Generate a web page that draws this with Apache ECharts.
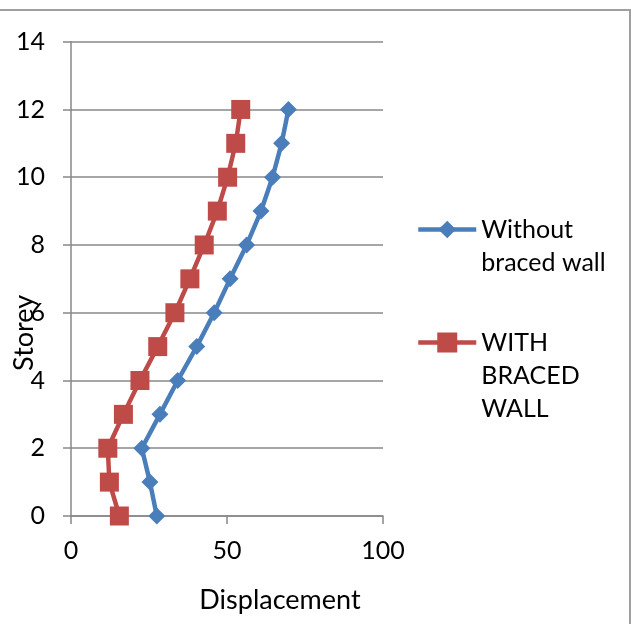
<!DOCTYPE html>
<html>
<head>
<meta charset="utf-8">
<script src="https://cdn.jsdelivr.net/npm/echarts@6/dist/echarts.min.js"></script>
<style>
  html, body { margin: 0; padding: 0; background: #fff; }
  #frame {
    position: absolute; left: 0; top: 9px; width: 629px; height: 615px;
    border-top: 2px solid #a0a0a0; border-right: 2px solid #a0a0a0;
  }
  #chart { position: absolute; left: 0; top: 0; width: 631px; height: 624px; }
</style>
</head>
<body>
<div id="frame"></div>
<div id="chart"></div>
<script>
const storeys = [0, 1, 2, 3, 4, 5, 6, 7, 8, 9, 10, 11, 12];
const withoutBraced = [27.5, 25.3, 22.7, 28.5, 34.2, 40.3, 45.9, 51.0, 56.3, 60.9, 64.6, 67.5, 69.7];
const withBraced = [15.5, 12.3, 11.8, 16.8, 22.1, 27.8, 33.3, 38.1, 42.7, 46.9, 50.2, 52.8, 54.4];
const seriesNames = ["Without\nbraced wall", "WITH\nBRACED\nWALL"];
const xTicks = { min: 0, max: 100, interval: 50 };
const yTicks = { min: 0, max: 14, interval: 2 };

const font = "Lato";
const fs = 25;
const blue = "#4a7ebb";
const red = "#be4b48";
const gridGrey = "#888888";
const lh = 33;

// excel puts the legend marker on the first text line, so pad the text above
function legendText(name) {
  const lines = name.split("\n").length;
  return "\n".repeat(lines - 1) + name;
}

const chart = echarts.init(document.getElementById("chart"), null, { renderer: "canvas" });

chart.setOption({
  animation: false,
  textStyle: { fontFamily: font, color: "#000" },
  grid: { left: 71, right: 248, top: 41.7, bottom: 108, containLabel: false, outerBoundsMode: "none" },
  xAxis: {
    type: "value",
    min: xTicks.min,
    max: xTicks.max,
    interval: xTicks.interval,
    name: "Displacement",
    nameLocation: "middle",
    nameGap: 71,
    nameMoveOverlap: false,
    nameTextStyle: { fontFamily: font, fontSize: 27, color: "#000", padding: [0, 0, 0, 106] },
    axisLine: { show: true, lineStyle: { color: gridGrey, width: 1.5 } },
    axisTick: { show: true, length: 8, lineStyle: { color: gridGrey, width: 1.5 } },
    axisLabel: { fontFamily: font, fontSize: fs, color: "#000", margin: 22 },
    splitLine: { show: false },
  },
  yAxis: {
    type: "value",
    min: yTicks.min,
    max: yTicks.max,
    interval: yTicks.interval,
    name: "Storey",
    nameLocation: "middle",
    nameGap: 33,
    nameMoveOverlap: false,
    nameTextStyle: { fontFamily: font, fontSize: 27, color: "#000", padding: [0, 108, 0, 0] },
    axisLine: { show: true, lineStyle: { color: gridGrey, width: 1.5 } },
    axisTick: { show: true, length: 8, lineStyle: { color: gridGrey, width: 1.5 } },
    axisLabel: { fontFamily: font, fontSize: fs, color: "#000", margin: 26 },
    splitLine: { show: true, lineStyle: { color: gridGrey, width: 1.5 } },
  },
  legend: [
    {
      data: [seriesNames[0]],
      formatter: legendText,
      left: 416, top: 180, padding: 0, itemWidth: 58, itemHeight: 22, itemGap: 4,
      lineStyle: { width: 4.5 },
      textStyle: { fontFamily: font, fontSize: fs, color: "#000", lineHeight: lh },
    },
    {
      data: [seriesNames[1]],
      formatter: legendText,
      left: 416, top: 260, padding: 0, itemWidth: 58, itemHeight: 25, itemGap: 4,
      lineStyle: { width: 4.5 },
      textStyle: { fontFamily: font, fontSize: fs, color: "#000", lineHeight: lh },
    },
  ],
  series: [
    {
      name: seriesNames[0],
      type: "line",
      data: storeys.map((s, i) => [withoutBraced[i], s]),
      symbol: "diamond",
      symbolSize: 17,
      itemStyle: { color: blue },
      lineStyle: { color: blue, width: 4.5 },
    },
    {
      name: seriesNames[1],
      type: "line",
      data: storeys.map((s, i) => [withBraced[i], s]),
      symbol: "rect",
      symbolSize: 19,
      itemStyle: { color: red },
      lineStyle: { color: red, width: 4.5 },
    },
  ],
});
</script>
</body>
</html>
